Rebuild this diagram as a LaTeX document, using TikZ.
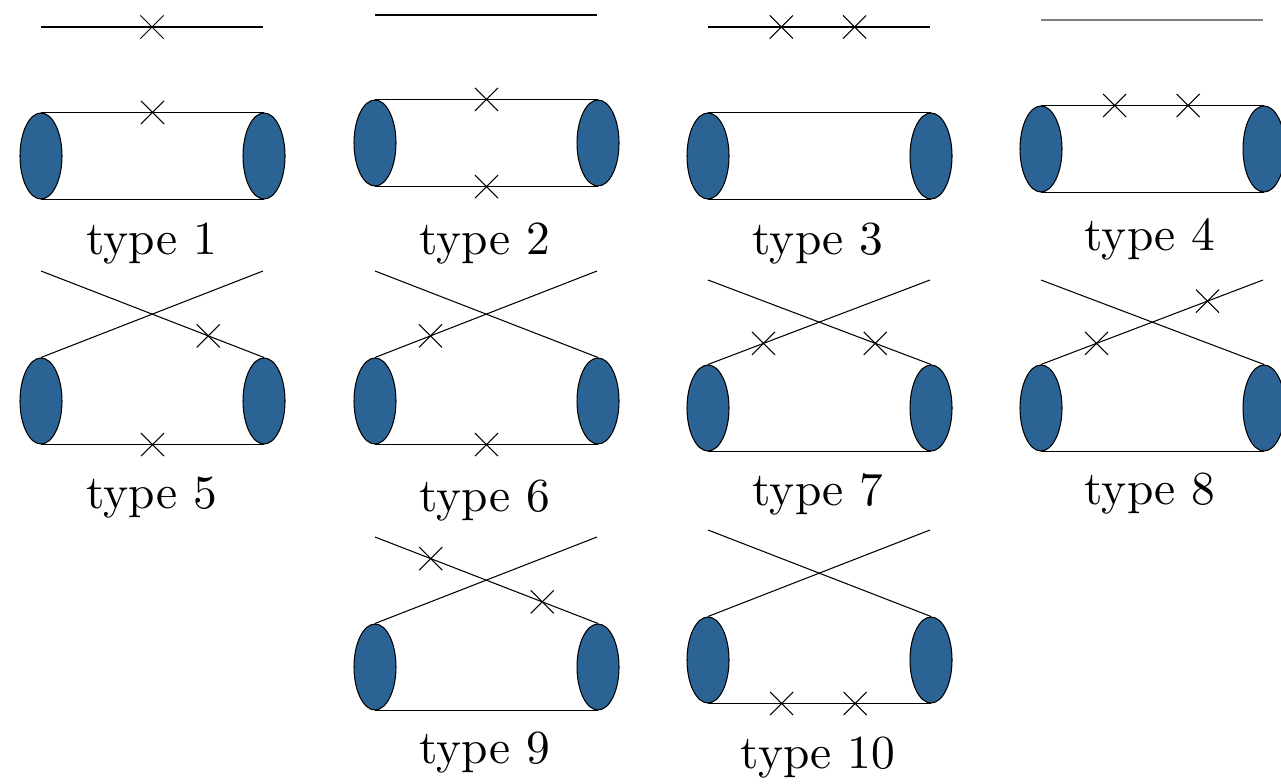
\documentclass[tikz,border=0pt]{standalone}
\usepackage{fontspec}
\usepackage{xcolor}
\usepackage{tikz}
\usetikzlibrary{positioning,shapes.geometric,shapes.misc}
\newfontfamily\labelfont{lmroman10-regular}[Extension=.otf]
\definecolor{blobBlue}{RGB}{42,99,148}
\tikzstyle{blob}=[ellipse, draw=black, fill=blobBlue, line width=0.6pt, minimum width=0.84cm, minimum height=1.72cm, inner sep=0pt]
\tikzstyle{prop}=[-, draw=black, line width=0.6pt]
\tikzstyle{xmark}=[cross out, draw=black, line width=0.6pt, minimum size=0.44cm, inner sep=0pt]
\tikzstyle{typeLabel}=[font=\labelfont\fontsize{27}{30}\selectfont]

\begin{document}
\begin{tikzpicture}[x=0.02cm, y=-0.02cm]
    \useasboundingbox (0,0) rectangle (1281,784);

    %Type 1
    \coordinate (t1a) at (41,27);
    \coordinate (t1b) at (263,27);
    \node [style=blob] (L1) at (41,156) {};
    \node [style=blob, right=3.6cm of L1] (R1) {};
    \draw [style=prop] (t1a) to node[style=xmark] (x1a) {} (t1b);
    \draw [style=prop] (L1.north) to node[style=xmark] (x1b) {} (R1.north);
    \draw [style=prop] (L1.south) to (R1.south);
    \node [style=typeLabel] (lab1) at (152,244) {type 1};

    %Type 2
    \coordinate (t2a) at (375,15);
    \coordinate (t2b) at (597,15);
    \node [style=blob] (L2) at (375,143) {};
    \node [style=blob, right=3.6cm of L2] (R2) {};
    \draw [style=prop] (t2a) to (t2b);
    \draw [style=prop] (L2.north) to node[style=xmark] (x2a) {} (R2.north);
    \draw [style=prop] (L2.south) to node[style=xmark] (x2b) {} (R2.south);
    \node [style=typeLabel] (lab2) at (485,244) {type 2};

    %Type 3
    \coordinate (t3a) at (708,27);
    \coordinate (t3b) at (930,27);
    \node [style=blob] (L3) at (708,156) {};
    \node [style=blob, right=3.6cm of L3] (R3) {};
    \draw [style=prop] (t3a) to node[style=xmark, pos=0.33] (x3a) {} node[style=xmark, pos=0.66] (x3b) {} (t3b);
    \draw [style=prop] (L3.north) to (R3.north);
    \draw [style=prop] (L3.south) to (R3.south);
    \node [style=typeLabel] (lab3) at (818,244) {type 3};

    %Type 4
    \coordinate (t4a) at (1041,20);
    \coordinate (t4b) at (1263,20);
    \node [style=blob] (L4) at (1041,149) {};
    \node [style=blob, right=3.6cm of L4] (R4) {};
    \draw [style=prop, draw=gray] (t4a) to (t4b);
    \draw [style=prop] (L4.north) to node[style=xmark, pos=0.33] (x4a) {} node[style=xmark, pos=0.66] (x4b) {} (R4.north);
    \draw [style=prop] (L4.south) to (R4.south);
    \node [style=typeLabel] (lab4) at (1150,239) {type 4};

    %Type 5
    \coordinate (t5a) at (41,271);
    \coordinate (t5b) at (263,271);
    \node [style=blob] (L5) at (41,401) {};
    \node [style=blob, right=3.6cm of L5] (R5) {};
    \draw [style=prop] (L5.north) to (t5b);
    \draw [style=prop] (t5a) to node[style=xmark, pos=0.75] (x5a) {} (R5.north);
    \draw [style=prop] (L5.south) to node[style=xmark] (x5b) {} (R5.south);
    \node [style=typeLabel] (lab5) at (152,498) {type 5};

    %Type 6
    \coordinate (t6a) at (375,271);
    \coordinate (t6b) at (597,271);
    \node [style=blob] (L6) at (375,401) {};
    \node [style=blob, right=3.6cm of L6] (R6) {};
    \draw [style=prop] (L6.north) to node[style=xmark, pos=0.25] (x6a) {} (t6b);
    \draw [style=prop] (t6a) to (R6.north);
    \draw [style=prop] (L6.south) to node[style=xmark] (x6b) {} (R6.south);
    \node [style=typeLabel] (lab6) at (485,501) {type 6};

    %Type 7
    \coordinate (t7a) at (708,280);
    \coordinate (t7b) at (930,280);
    \node [style=blob] (L7) at (708,408) {};
    \node [style=blob, right=3.6cm of L7] (R7) {};
    \draw [style=prop] (L7.north) to node[style=xmark, pos=0.25] (x7a) {} (t7b);
    \draw [style=prop] (t7a) to node[style=xmark, pos=0.75] (x7b) {} (R7.north);
    \draw [style=prop] (L7.south) to (R7.south);
    \node [style=typeLabel] (lab7) at (818,494) {type 7};

    %Type 8
    \coordinate (t8a) at (1041,280);
    \coordinate (t8b) at (1263,280);
    \node [style=blob] (L8) at (1041,408) {};
    \node [style=blob, right=3.6cm of L8] (R8) {};
    \draw [style=prop] (L8.north) to node[style=xmark, pos=0.25] (x8a) {} node[style=xmark, pos=0.75] (x8b) {} (t8b);
    \draw [style=prop] (t8a) to (R8.north);
    \draw [style=prop] (L8.south) to (R8.south);
    \node [style=typeLabel] (lab8) at (1150,494) {type 8};

    %Type 9
    \coordinate (t9a) at (375,537);
    \coordinate (t9b) at (597,537);
    \node [style=blob] (L9) at (375,667) {};
    \node [style=blob, right=3.6cm of L9] (R9) {};
    \draw [style=prop] (L9.north) to (t9b);
    \draw [style=prop] (t9a) to node[style=xmark, pos=0.25] (x9a) {} node[style=xmark, pos=0.75] (x9b) {} (R9.north);
    \draw [style=prop] (L9.south) to (R9.south);
    \node [style=typeLabel] (lab9) at (485,753) {type 9};

    %Type 10
    \coordinate (t10a) at (708,530);
    \coordinate (t10b) at (930,530);
    \node [style=blob] (L10) at (708,660) {};
    \node [style=blob, right=3.6cm of L10] (R10) {};
    \draw [style=prop] (L10.north) to (t10b);
    \draw [style=prop] (t10a) to (R10.north);
    \draw [style=prop] (L10.south) to node[style=xmark, pos=0.33] (x10a) {} node[style=xmark, pos=0.66] (x10b) {} (R10.south);
    \node [style=typeLabel] (lab10) at (818,758) {type 10};
\end{tikzpicture}
\end{document}
